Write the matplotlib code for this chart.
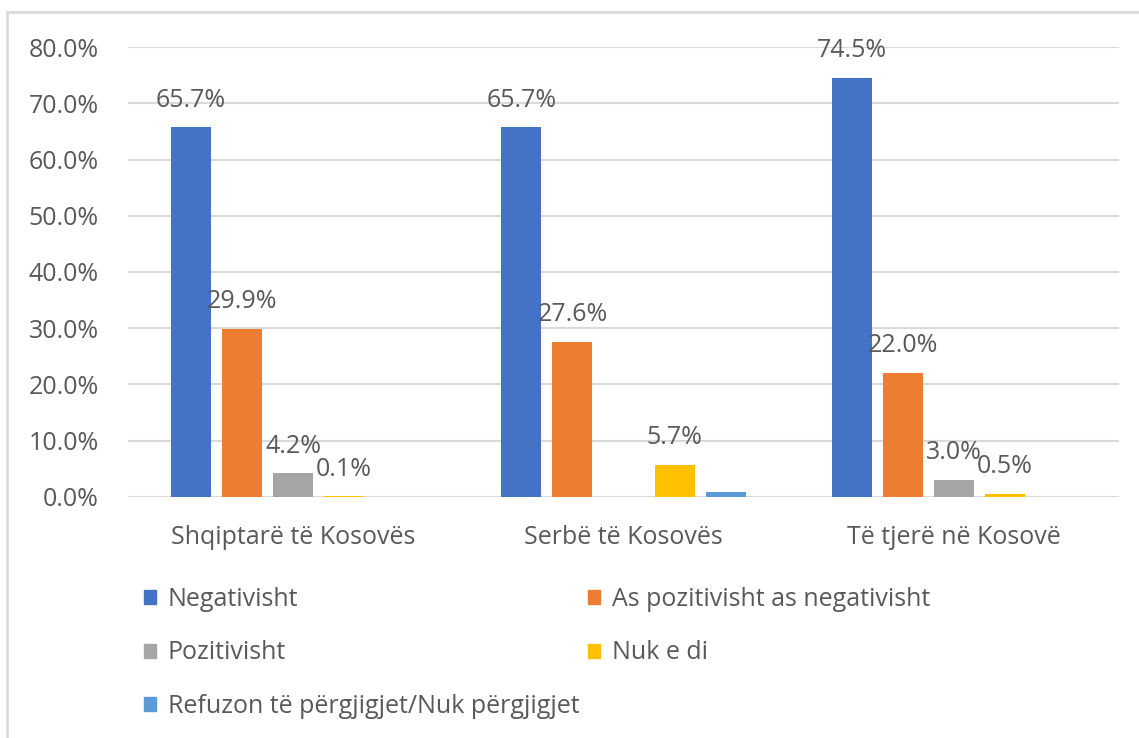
"""Attitudes by community in Kosovo: grouped bar chart with data labels."""
import numpy as np
import matplotlib.pyplot as plt
from matplotlib.patches import Patch, Rectangle

# -------------------------------------------------------
# Data.
# -------------------------------------------------------
groups = ["Shqiptarë të Kosovës", "Serbë të Kosovës", "Të tjerë në Kosovë"]
series_names = [
    "Negativisht",
    "As pozitivisht as negativisht",
    "Pozitivisht",
    "Nuk e di",
    "Refuzon të përgjigjet/Nuk përgjigjet",
    ]
negativisht = [65.7, 65.7, 74.5]
as_pozitivisht = [29.9, 27.6, 22.0]
pozitivisht = [4.2, np.nan, 3.0]
nuk_e_di = [0.1, 5.7, 0.5]
refuzon = [np.nan, 0.9, np.nan]
# which values carry a visible data label:
labelled = [
    [True, True, True],
    [True, True, True],
    [True, False, True],
    [True, True, True],
    [False, False, False],
    ]
series_values = [negativisht, as_pozitivisht, pozitivisht, nuk_e_di, refuzon]
colors = ["#4472C4", "#ED7D31", "#A5A5A5", "#FFC000", "#5B9BD5"]

# -------------------------------------------------------
# Plot.
# -------------------------------------------------------
txt = "#595959"
plt.rcParams["font.family"] = ["Open Sans", "DejaVu Sans"]
fs = 18

fig = plt.figure(figsize=(11.39, 7.38), dpi=100)
ax = fig.add_axes([0.1124, 0.3266, 0.87, 0.6097])

# outer chart border (only top/left visible in the crop):
fig.patches.append(Rectangle(
    (0.0065, -0.5), 1.5, 1.4837,
    transform=fig.transFigure,
    fill=False, edgecolor="#d9d9d9", linewidth=2,
    ))

x = np.arange(len(groups))
step = 0.1545
width = 0.121
for i, vals in enumerate(series_values):
    pos = x + (i-2)*step
    ax.bar(pos, vals, width, color=colors[i], zorder=3)
    for j, v in enumerate(vals):
        if labelled[i][j] and not np.isnan(v):
            ax.annotate(
                "%.1f%%" % v,
                (pos[j], v),
                xytext=(0, 15),
                textcoords="offset points",
                ha="center",
                va="baseline",
                fontsize=fs,
                color=txt,
                )

ax.set_xlim(-0.5, 2.5)
ax.set_ylim(0, 80)
ax.set_yticks(np.arange(0, 81, 10))
ax.set_yticklabels(["%.1f%%" % t for t in np.arange(0, 81, 10)])
ax.set_xticks(x)
ax.set_xticklabels(groups)
ax.tick_params(axis="y", length=0, pad=21, labelsize=fs, labelcolor=txt)
ax.tick_params(axis="x", length=0, pad=20, labelsize=fs, labelcolor=txt)
ax.grid(axis="y", color="#d9d9d9", linewidth=1.5, zorder=0)
for s in ax.spines.values():
    s.set_visible(False)

# legend, filled column-wise:
handles = [Patch(color=c) for c in colors]
order = [0, 2, 4, 1, 3]
fig.legend(
    [handles[k] for k in order],
    [series_names[k] for k in order],
    loc="upper left",
    bbox_to_anchor=(0.126, 0.205),
    ncol=2,
    frameon=False,
    fontsize=fs,
    labelcolor=txt,
    handlelength=0.48,
    handleheight=0.48,
    handletextpad=0.48,
    labelspacing=1.15,
    columnspacing=0.36,
    borderaxespad=0,
    borderpad=0,
    )

fig.savefig("out.png", dpi=100)
